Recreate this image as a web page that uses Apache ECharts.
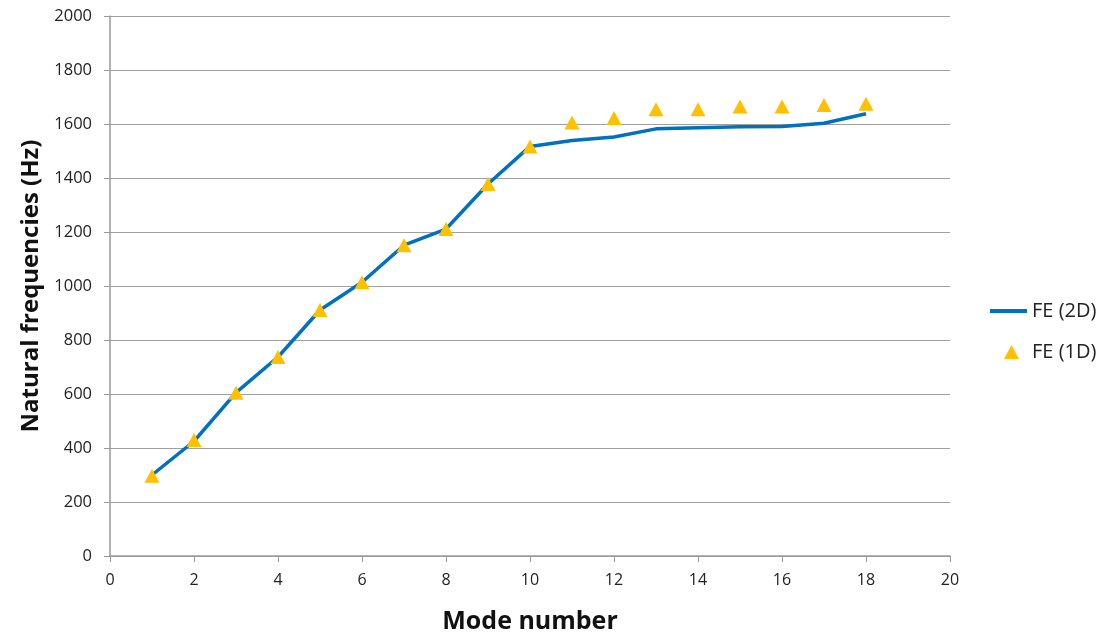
<!DOCTYPE html>
<html>
<head>
<meta charset="utf-8">
<script src="https://cdn.jsdelivr.net/npm/echarts@6/dist/echarts.min.js"></script>
<style>
html,body{margin:0;padding:0;background:#fff;}
#chart{width:1104px;height:639px;}
</style>
</head>
<body>
<div id="chart"></div>
<script>
var modes = [1,2,3,4,5,6,7,8,9,10,11,12,13,14,15,16,17,18];
var fe2D = [300,425,605,737,911,1014,1151,1211,1378,1517,1539,1552,1582,1586,1590,1591,1603,1638];
var fe1D = [297,430,605,737,911,1014,1151,1211,1378,1517,1606,1622,1655,1655,1665,1665,1670,1675];
var xTicks = [0,2,4,6,8,10,12,14,16,18,20];
var yTicks = [0,200,400,600,800,1000,1200,1400,1600,1800,2000];

var FONT = '"Open Sans", "Liberation Sans", sans-serif';
var chart = echarts.init(document.getElementById('chart'), null, {renderer:'canvas'});
chart.setOption({
  backgroundColor:'#fff',
  animation:false,
  textStyle:{fontFamily:FONT},
  grid:{left:110, right:154, top:16, bottom:82, containLabel:false},
  legend:[
    {orient:'vertical', left:985, top:296, itemWidth:37, itemHeight:4, itemGap:10,
     textStyle:{fontSize:20, color:'#222', fontFamily:FONT},
     data:[{name:'FE (2D)', icon:'rect', itemStyle:{color:'#0070C0'}}]},
    {orient:'vertical', left:999, top:337, itemWidth:15, itemHeight:14,
     textStyle:{fontSize:20, color:'#222', fontFamily:FONT, padding:[0,0,0,8]},
     data:[{name:'FE (1D)', icon:'triangle'}]}
  ],
  xAxis:{
    type:'value', min:xTicks[0], max:xTicks[xTicks.length-1], interval:2,
    name:'Mode number', nameLocation:'middle', nameGap:53,
    nameTextStyle:{fontSize:25, fontWeight:'bold', color:'#111', fontFamily:FONT},
    axisLine:{show:true, lineStyle:{color:'#9a9a9a', width:1.5}},
    axisTick:{show:true, inside:false, length:6, lineStyle:{color:'#9a9a9a'}},
    axisLabel:{fontSize:16, color:'#222', margin:16, fontFamily:FONT},
    splitLine:{show:false}
  },
  yAxis:{
    type:'value', min:yTicks[0], max:yTicks[yTicks.length-1], interval:200,
    name:'Natural frequencies (Hz)', nameLocation:'middle', nameGap:67,
    nameTextStyle:{fontSize:24, fontWeight:'bold', color:'#111', fontFamily:FONT},
    axisLine:{show:true, lineStyle:{color:'#9a9a9a', width:1.5}},
    axisTick:{show:true, inside:false, length:6, lineStyle:{color:'#9a9a9a'}},
    axisLabel:{fontSize:16.5, color:'#222', margin:18, fontFamily:FONT,
      formatter:function(v){return String(v);}},
    splitLine:{show:true, lineStyle:{color:'#a0a0a0', width:1.2}}
  },
  series:[
    {name:'FE (2D)', type:'line', symbol:'none',
     data: modes.map(function(m,i){return [m, fe2D[i]];}),
     lineStyle:{color:'#0070C0', width:3.5}, itemStyle:{color:'#0070C0'}, z:2},
    {name:'FE (1D)', type:'scatter', symbol:'triangle', symbolSize:[15,14],
     data: modes.map(function(m,i){return [m, fe1D[i]];}),
     itemStyle:{color:'#FFC000', opacity:1}, z:3}
  ]
});
</script>
</body>
</html>
